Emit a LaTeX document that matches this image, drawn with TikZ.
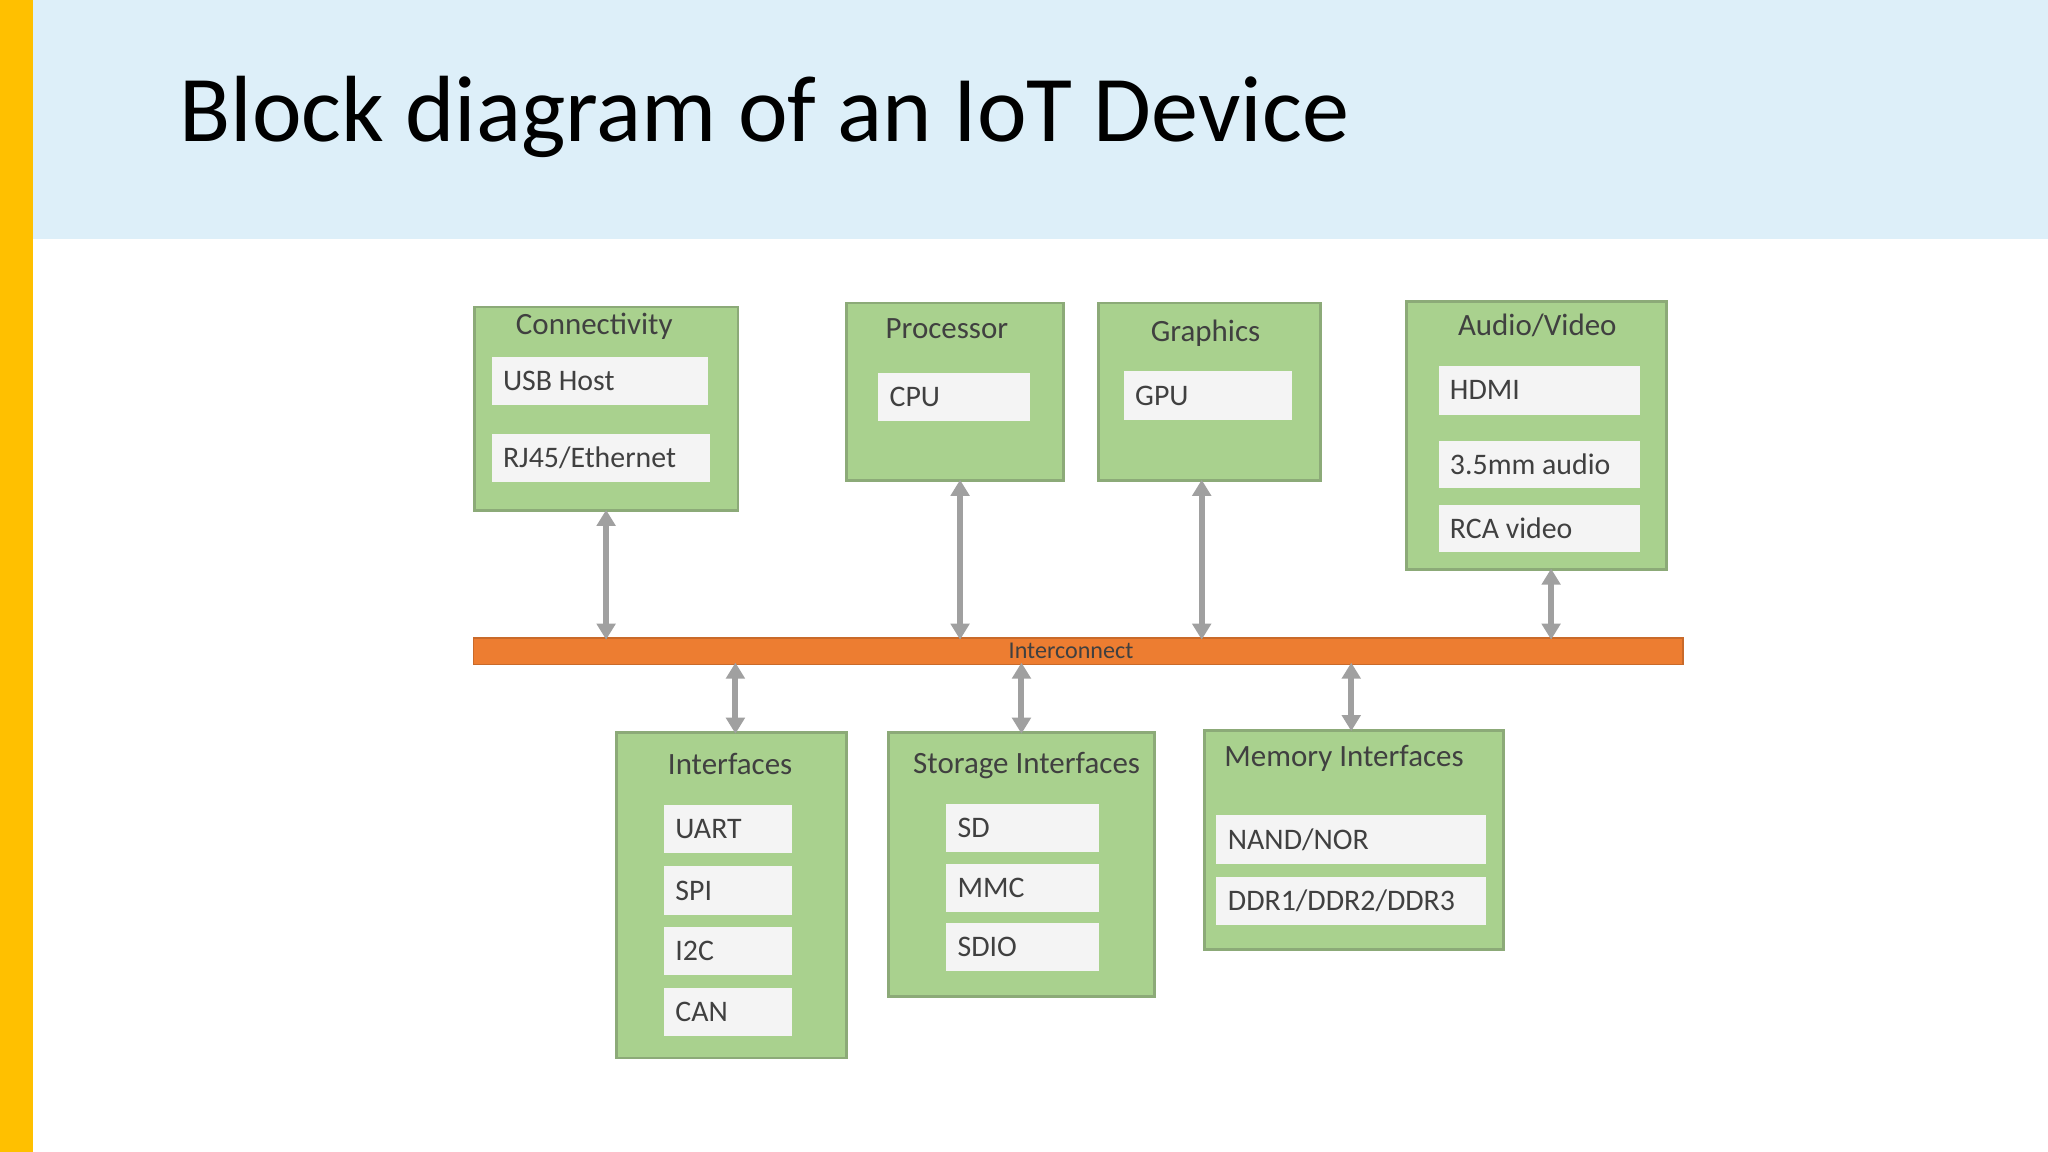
\documentclass[tikz,border=0pt]{standalone}
\usepackage{fontspec}
\setmainfont{Carlito}
\usetikzlibrary{arrows.meta}
\definecolor{gfill}{HTML}{A9D18E}
\definecolor{gdraw}{HTML}{8CAA78}
\definecolor{wfill}{HTML}{F4F4F4}
\definecolor{ttext}{HTML}{404040}
\definecolor{bgblue}{HTML}{DDEFF9}
\definecolor{goldbar}{RGB}{255,192,0}
\definecolor{obar}{HTML}{ED7D31}
\definecolor{agray}{HTML}{A0A0A0}
\begin{document}
\begin{tikzpicture}[x=0.02cm,y=0.02cm,
  gbox/.style={draw=gdraw,fill=gfill,line width=1.2pt,anchor=north west,inner sep=0pt},
  wbox/.style={fill=wfill,draw=none,anchor=north west,inner sep=0pt},
  ttl/.style={font=\fontsize{13.5}{16}\selectfont,text=ttext},
  lbl/.style={font=\fontsize{13}{16}\selectfont,text=ttext,anchor=west,inner sep=0pt},
  arr/.style={draw=agray,line width=2.6pt,{Triangle[length=7pt,width=8pt]}-{Triangle[length=7pt,width=8pt]},shorten <=-1pt,shorten >=-1pt}]
\useasboundingbox (0,0) rectangle (1568,-882);
\fill[white] (0,0) rectangle (1568,-882);
\fill[bgblue] (0,0) rectangle (1568,-183);
\fill[goldbar] (0,0) rectangle (25,-882);
\node[anchor=base west,inner sep=0pt,font=\fontsize{41}{48}\selectfont,text=black] (title) at (137,-108) {Block diagram of an IoT Device};
\newcommand{\gb}[5]{\node[gbox,minimum width={(#4-#2)*0.02cm},minimum height={(#5-#3)*0.02cm}] (#1) at (#2,-#3) {};}
\newcommand{\wb}[6]{\node[wbox,minimum width={(#4-#2)*0.02cm},minimum height={(#5-#3)*0.02cm}] (#1) at (#2,-#3) {};
  \node[lbl] (#1t) at ([xshift=5pt]#1.west) {#6};}
% Connectivity
\gb{conn}{362}{234}{564}{390}
\node[ttl] (connt) at (455,-250) {Connectivity};
\wb{usb}{376}{273}{542}{310}{USB Host}
\wb{rj}{376}{332}{543}{369}{RJ45/Ethernet}
% Processor
\gb{proc}{647}{231}{813}{367}
\node[ttl] (proct) at (725,-252) {Processor};
\wb{cpu}{672}{285}{788}{322}{CPU}
% Graphics
\gb{gfx}{840}{231}{1010}{367}
\node[ttl] (gfxt) at (923,-255) {Graphics};
\wb{gpu}{860}{284}{989}{321}{GPU}
% Audio/Video
\gb{av}{1076}{230}{1275}{435}
\node[ttl] (avt) at (1177,-249) {Audio/Video};
\wb{hdmi}{1101}{280}{1255}{317}{HDMI}
\wb{aud}{1101}{337}{1255}{373}{3.5mm audio}
\wb{rca}{1101}{386}{1255}{422}{RCA video}
% Interconnect
\node[fill=obar,draw=obar!85!black,line width=0.6pt,anchor=north west,inner sep=0pt,minimum width={926*0.02cm},minimum height={20*0.02cm}] (bar) at (362,-488) {};
\node[font=\fontsize{10.5}{12}\selectfont,text=ttext] (bart) at (820,-498) {Interconnect};
% Interfaces
\gb{intf}{471}{560}{647}{809}
\node[ttl] (intft) at (559,-585) {Interfaces};
\wb{uart}{508}{616}{606}{653}{UART}
\wb{spi}{508}{663}{606}{700}{SPI}
\wb{iic}{508}{709}{606}{746}{I2C}
\wb{can}{508}{756}{606}{793}{CAN}
% Storage
\gb{stor}{679}{560}{883}{762}
\node[ttl] (stort) at (786,-586) {Storage Interfaces};
\wb{sd}{724}{615}{841}{652}{SD}
\wb{mmc}{724}{661}{841}{698}{MMC}
\wb{sdio}{724}{706}{841}{743}{SDIO}
% Memory
\gb{mem}{921}{558}{1150}{726}
\node[ttl] (memt) at (1029,-581) {Memory Interfaces};
\wb{nand}{931}{624}{1137}{661}{NAND/NOR}
\wb{ddr}{931}{671}{1137}{708}{DDR1/DDR2/DDR3}
% arrows
\path (conn.south) coordinate (a1);
\path (proc.south) ++(4,0) coordinate (a2);
\path (gfx.south) ++(-6,0) coordinate (a3);
\path (av.south) ++(11,0) coordinate (a4);
\path (intf.north) ++(3,0) coordinate (b1);
\path (stor.north) coordinate (b2);
\path (mem.north) ++(-2,0) coordinate (b3);
\draw[arr] (a1) -- (a1 |- bar.north);
\draw[arr] (a2) -- (a2 |- bar.north);
\draw[arr] (a3) -- (a3 |- bar.north);
\draw[arr] (a4) -- (a4 |- bar.north);
\draw[arr] (b1 |- bar.south) -- (b1);
\draw[arr] (b2 |- bar.south) -- (b2);
\draw[arr] (b3 |- bar.south) -- (b3);
\end{tikzpicture}
\end{document}
